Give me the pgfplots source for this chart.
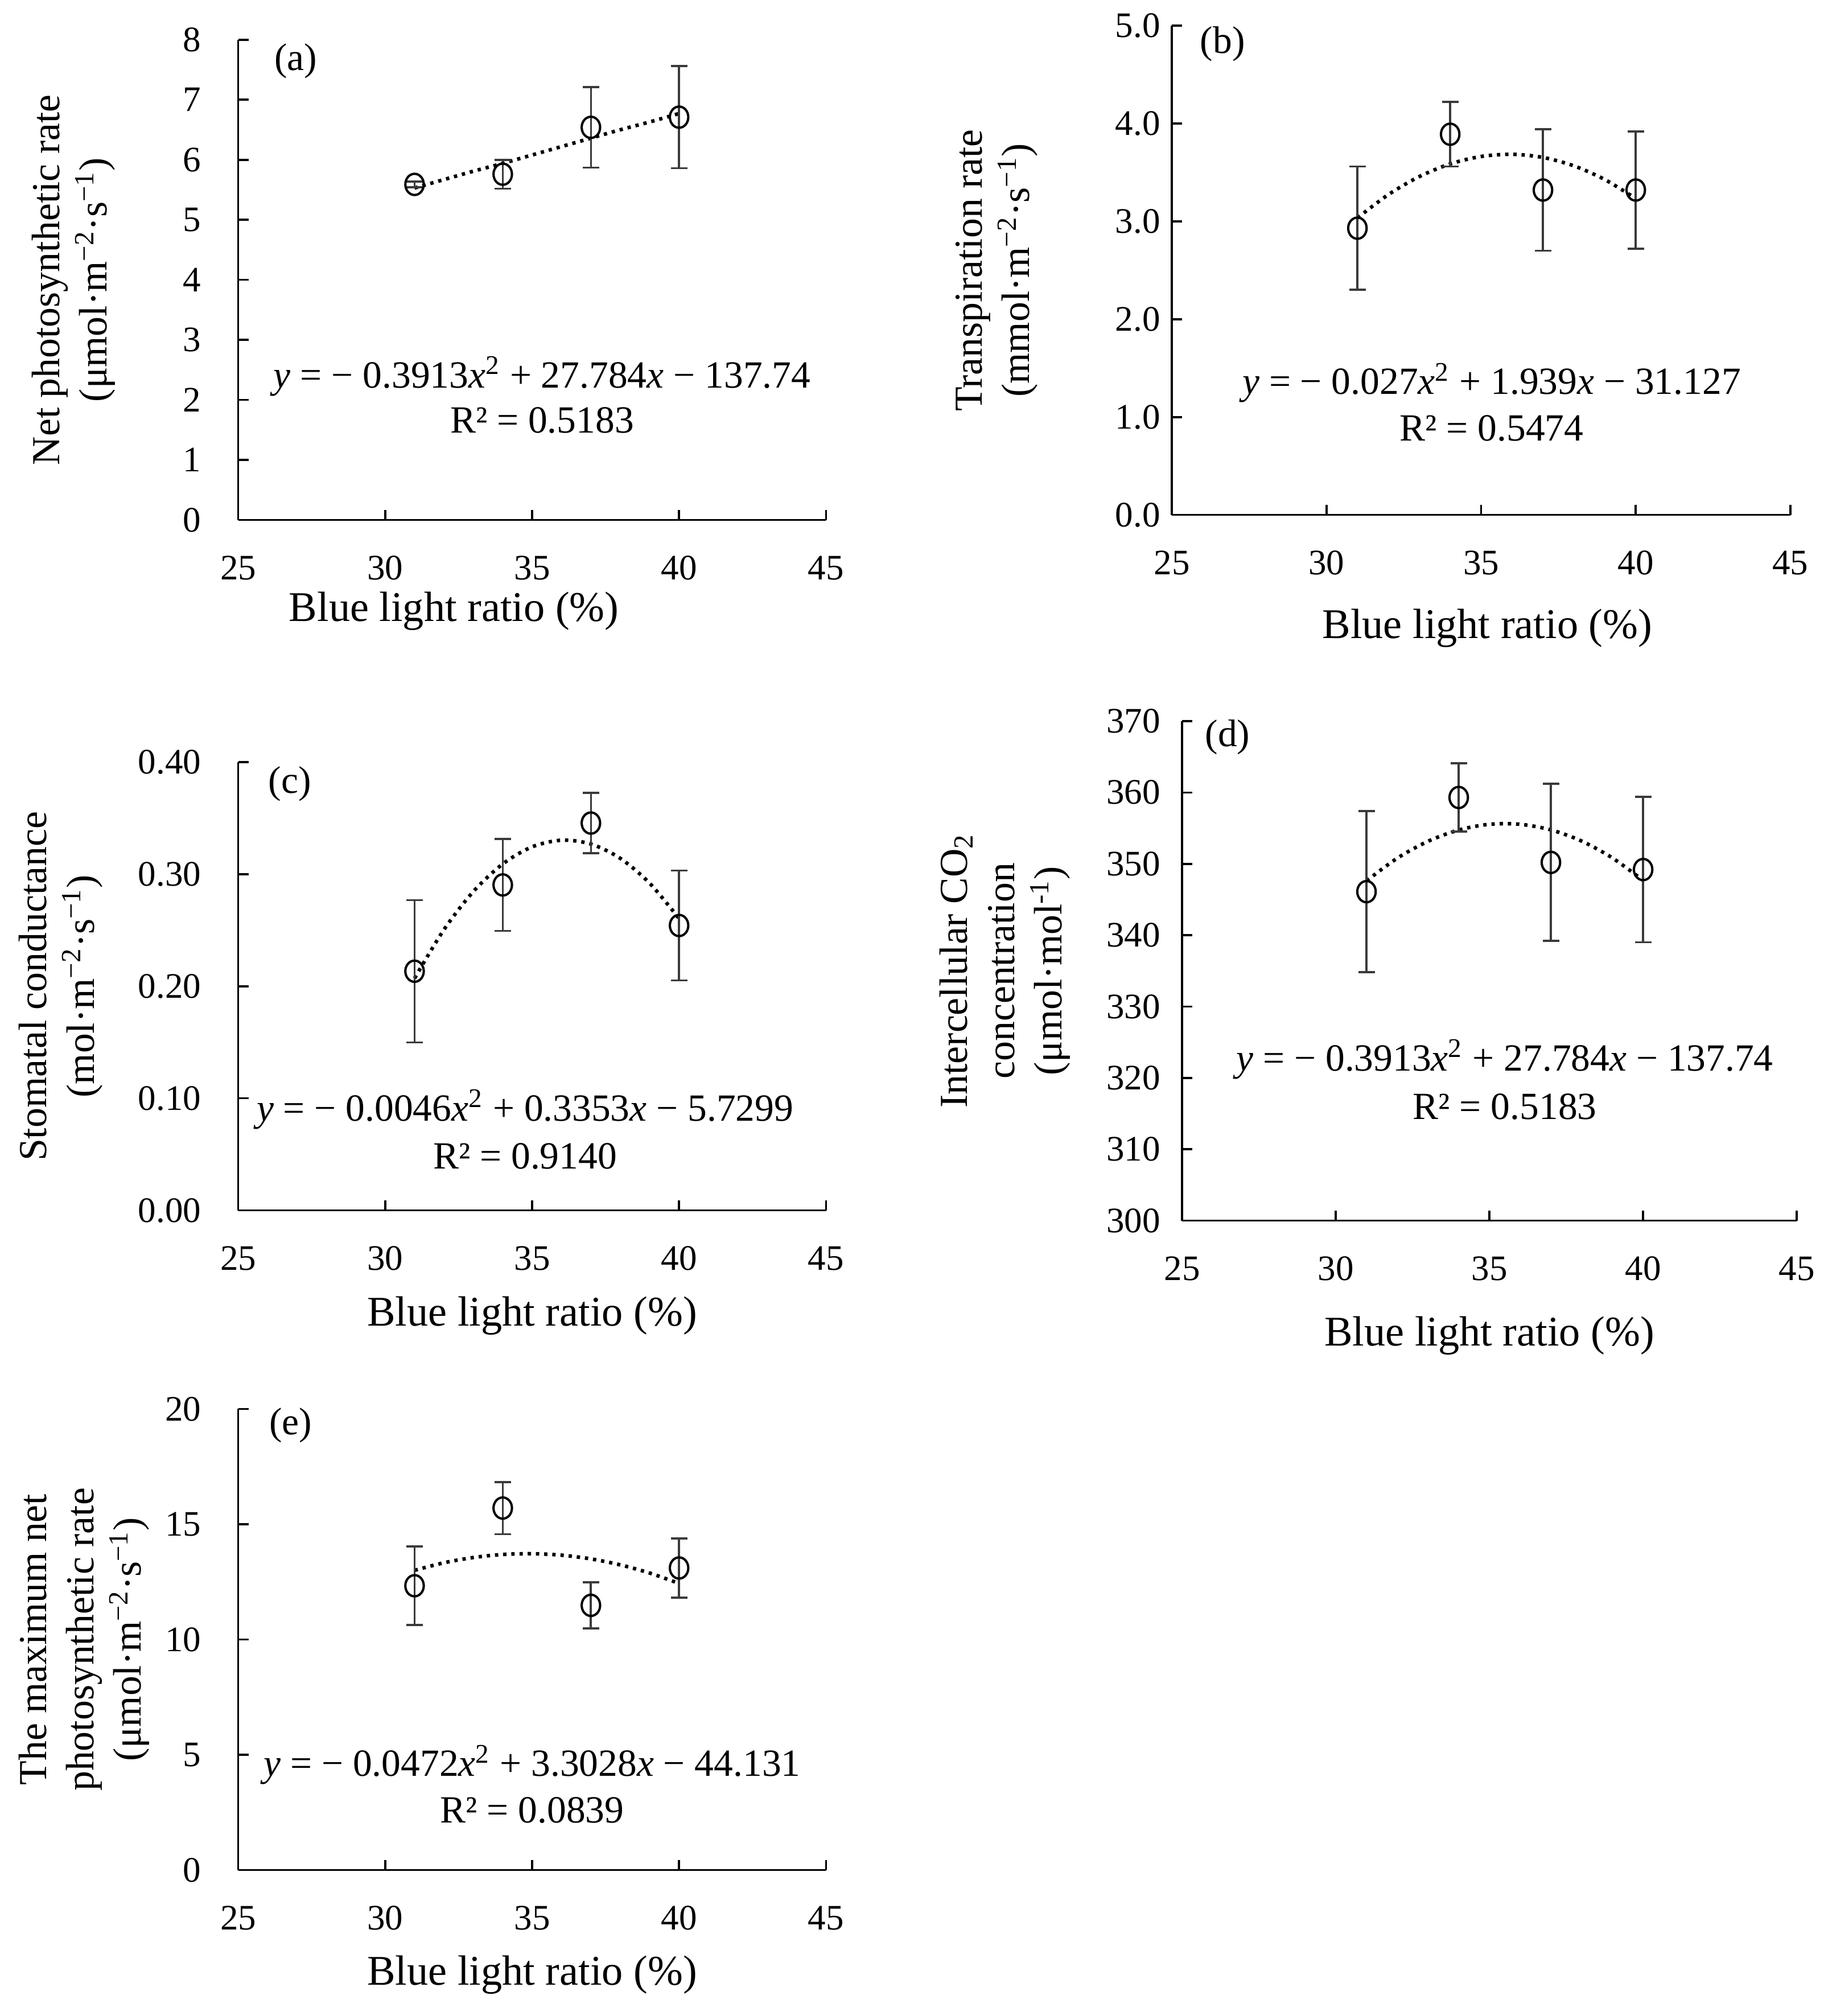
\documentclass[border=0pt]{standalone}
\usepackage{fontspec}
\setmainfont{Liberation Serif}
\usepackage{pgfplots}
\pgfplotsset{compat=1.18}
\definecolor{ebar}{HTML}{3A3A3A}
\tikzset{eqn/.style={font=\fontsize{15}{17}\selectfont, anchor=center}}
\pgfplotsset{
  panel/.style={
    scale only axis,
    anchor=south west,
    axis lines=left,
    axis line style={-, line width=0.8pt, black},
    xmin=25, xmax=45, xtick={25,30,35,40,45},
    tick align=inside,
    major tick length=4pt,
    tick style={line width=0.8pt, black},
    /pgf/number format/assume math mode=true,
    ticklabel style={font=\fontsize{14}{16}\selectfont},
    xticklabel style={yshift=-10.5pt},
    xlabel style={font=\fontsize{16.5}{19}\selectfont},
    ylabel style={font=\fontsize{15.5}{18.5}\selectfont},
    xlabel={Blue light ratio (\%)},
    xlabel style={anchor=center},
    ylabel style={anchor=center, align=center, rotate=0},
    clip=false,
  },
  trend/.style={black, line width=1.4pt, dash pattern=on 1.3pt off 1.9pt, smooth, no marks},
  pts/.style={black, only marks, mark=o, mark size=3.6pt,
    mark options={line width=0.9pt, yscale=1.15},
    error bars/.cd, y dir=both, y explicit,
    error bar style={ebar, line width=0.8pt},
    error mark options={ebar, rotate=90, mark size=3.2pt, line width=0.8pt}},
}
\begin{document}
\begin{tikzpicture}
\path (0,0) rectangle (712pt,-787pt);
% (a)
\begin{axis}[panel, at={(93pt,-203pt)}, width=229.5pt, height=187.5pt,
  ymin=0, ymax=8, ytick={0,1,...,8},
  yticklabel style={xshift=-11pt},
  xlabel style={at={(axis description cs:0.367,-0.19)}},
  ylabel={Net photosynthetic rate\\(μmol·m\textsuperscript{−2}·s\textsuperscript{−1})},
  ylabel style={at={(axis description cs:-0.28,0.5)}}]
\addplot[trend] coordinates {(31,5.53) (32,5.67) (33,5.81) (34,5.94) (35,6.08) (36,6.22) (37,6.36) (38,6.50) (39,6.63) (40,6.77)};
\addplot[pts] coordinates {(31,5.59) +- (0,0.05) (34,5.76) +- (0,0.24) (37,6.54) +- (0,0.67) (40,6.71) +- (0,0.85)};
\node[eqn] at (axis description cs:0.098,0.955) {(a)};
\node[eqn] at (axis description cs:0.517,0.299) {\textit{y} = − 0.3913\textit{x}\textsuperscript{2} + 27.784\textit{x} − 137.74};
\node[eqn] at (axis description cs:0.517,0.208) {R² = 0.5183};
\end{axis}
% (b)
\begin{axis}[panel, at={(457.5pt,-201pt)}, width=241.5pt, height=191pt,
  ymin=0, ymax=5, ytick={0,1,...,5},
  yticklabel style={xshift=-1pt, /pgf/number format/.cd, fixed, fixed zerofill, precision=1},
  xlabel style={at={(axis description cs:0.51,-0.232)}},
  ylabel={Transpiration rate\\(mmol·m\textsuperscript{−2}·s\textsuperscript{−1})},
  ylabel style={at={(axis description cs:-0.283,0.5)}}]
\addplot[trend] coordinates {(31,3.035) (32,3.273) (33,3.457) (34,3.587) (35,3.663) (36,3.685) (37,3.653) (38,3.567) (39,3.427) (40,3.233)};
\addplot[pts] coordinates {(31,2.93) +- (0,0.63) (34,3.89) +- (0,0.33) (37,3.32) +- (0,0.62) (40,3.32) +- (0,0.60)};
\node[eqn] at (axis description cs:0.082,0.963) {(b)};
\node[eqn] at (axis description cs:0.517,0.27) {\textit{y} = − 0.027\textit{x}\textsuperscript{2} + 1.939\textit{x} − 31.127};
\node[eqn] at (axis description cs:0.517,0.177) {R² = 0.5474};
\end{axis}
% (c)
\begin{axis}[panel, at={(93pt,-472.5pt)}, width=229.5pt, height=175pt,
  ymin=0, ymax=0.4, ytick={0,0.1,0.2,0.3,0.4},
  yticklabel style={xshift=-11pt, /pgf/number format/.cd, fixed, fixed zerofill, precision=2},
  xlabel style={at={(axis description cs:0.5,-0.235)}},
  ylabel={Stomatal conductance\\(mol·m\textsuperscript{−2}·s\textsuperscript{−1})},
  ylabel style={at={(axis description cs:-0.302,0.5)}}]
\addplot[trend] coordinates {(31,0.2071) (32,0.2505) (33,0.2845) (34,0.3091) (35,0.3244) (36,0.3303) (37,0.3269) (38,0.3141) (39,0.2919) (40,0.2604)};
\addplot[pts] coordinates {(31,0.2134) +- (0,0.0635) (34,0.2904) +- (0,0.041) (37,0.3456) +- (0,0.027) (40,0.2542) +- (0,0.049)};
\node[eqn] at (axis description cs:0.088,0.951) {(c)};
\node[eqn] at (axis description cs:0.488,0.225) {\textit{y} = − 0.0046\textit{x}\textsuperscript{2} + 0.3353\textit{x} − 5.7299};
\node[eqn] at (axis description cs:0.488,0.121) {R² = 0.9140};
\end{axis}
% (d)
\begin{axis}[panel, at={(461.5pt,-476.5pt)}, width=240pt, height=195pt,
  ymin=300, ymax=370, ytick={300,310,...,370},
  yticklabel style={xshift=-5pt},
  xlabel style={at={(axis description cs:0.5,-0.23)}},
  ylabel={Intercellular CO\textsubscript{2}\\concentration\\(μmol·mol\textsuperscript{-1})},
  ylabel style={at={(axis description cs:-0.288,0.5)}}]
\addplot[trend] coordinates {(31,347.62) (32,350.79) (33,353.16) (34,354.74) (35,355.54) (36,355.54) (37,354.76) (38,353.19) (39,350.83) (40,347.68)};
\addplot[pts] coordinates {(31,346.1) +- (0,11.3) (34,359.3) +- (0,4.8) (37,350.2) +- (0,11.0) (40,349.2) +- (0,10.2)};
\node[eqn] at (axis description cs:0.074,0.968) {(d)};
\node[eqn] at (axis description cs:0.525,0.323) {\textit{y} = − 0.3913\textit{x}\textsuperscript{2} + 27.784\textit{x} − 137.74};
\node[eqn] at (axis description cs:0.525,0.228) {R² = 0.5183};
\end{axis}
% (e)
\begin{axis}[panel, at={(93pt,-730pt)}, width=229.5pt, height=180pt,
  ymin=0, ymax=20, ytick={0,5,...,20},
  yticklabel style={xshift=-11pt},
  xlabel style={at={(axis description cs:0.5,-0.228)}},
  ylabel={The maximum net\\photosynthetic rate\\(μmol·m\textsuperscript{−2}·s\textsuperscript{−1})},
  ylabel style={at={(axis description cs:-0.262,0.5)}}]
\addplot[trend] coordinates {(31,13.00) (32,13.327) (33,13.555) (34,13.686) (35,13.719) (36,13.656) (37,13.495) (38,13.236) (39,12.881) (40,12.43)};
\addplot[pts] coordinates {(31,12.33) +- (0,1.7) (34,15.70) +- (0,1.13) (37,11.48) +- (0,1.0) (40,13.10) +- (0,1.28)};
\node[eqn] at (axis description cs:0.089,0.964) {(e)};
\node[eqn] at (axis description cs:0.5,0.228) {\textit{y} = − 0.0472\textit{x}\textsuperscript{2} + 3.3028\textit{x} − 44.131};
\node[eqn] at (axis description cs:0.5,0.129) {R² = 0.0839};
\end{axis}
\end{tikzpicture}
\end{document}
